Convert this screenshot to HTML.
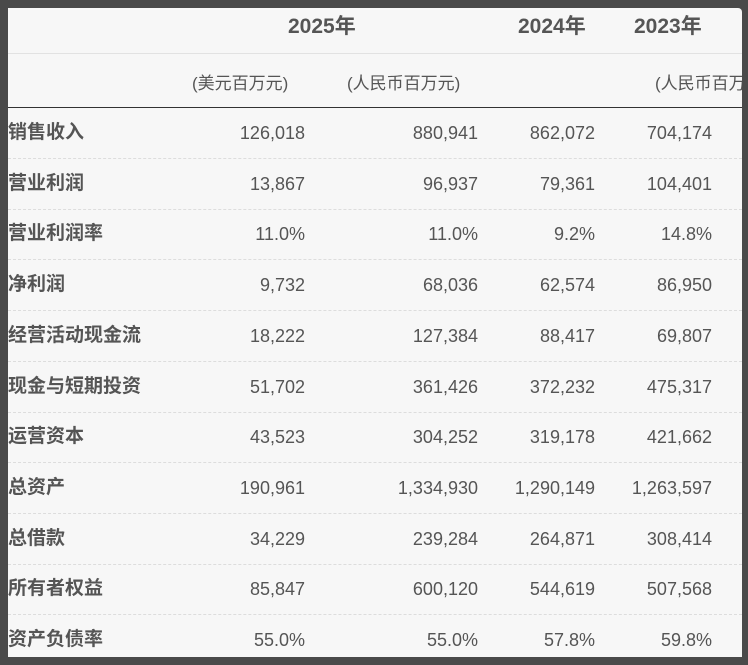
<!DOCTYPE html>
<html><head><meta charset="utf-8"><style>
html,body{margin:0;padding:0;}
body{width:748px;height:665px;background:#4a4a4a;position:relative;overflow:hidden;font-family:"Liberation Sans","Noto Sans CJK SC",sans-serif;color:#555;}
#panel{position:absolute;left:8px;top:8px;width:734px;height:649px;background:#f7f7f7;overflow:hidden;border-top-right-radius:4px;}
.t{position:absolute;white-space:nowrap;font-size:18px;line-height:24px;}
.r{text-align:right;}
.h{font-weight:bold;font-size:21px;color:#555;}
.lab{font-weight:bold;font-size:19px;color:#555;}
.line{position:absolute;left:0;width:734px;}
</style></head><body><div id="panel">
<div class="line" style="top:45px;border-top:1px solid #e2e2e2"></div>
<div class="line" style="top:99px;border-top:1.5px solid #333"></div>
<div class="t h" style="left:280px;top:7px">2025年</div>
<div class="t h" style="left:510px;top:7px">2024年</div>
<div class="t h" style="left:626px;top:7px">2023年</div>
<div class="t" style="left:184px;top:64px;font-size:17px">(美元百万元)</div>
<div class="t" style="left:339px;top:64px;font-size:17px">(人民币百万元)</div>
<div class="t" style="left:647px;top:64px;font-size:17px">(人民币百万元)</div>
<div id="rows"></div>
</div>
<script>
var d=[["销售收入","126,018","880,941","862,072","704,174"],["营业利润","13,867","96,937","79,361","104,401"],["营业利润率","11.0%","11.0%","9.2%","14.8%"],["净利润","9,732","68,036","62,574","86,950"],["经营活动现金流","18,222","127,384","88,417","69,807"],["现金与短期投资","51,702","361,426","372,232","475,317"],["运营资本","43,523","304,252","319,178","421,662"],["总资产","190,961","1,334,930","1,290,149","1,263,597"],["总借款","34,229","239,284","264,871","308,414"],["所有者权益","85,847","600,120","544,619","507,568"],["资产负债率","55.0%","55.0%","57.8%","59.8%"]];
var R=[297,470,587,704],h="";
for(var i=0;i<d.length;i++){var c=125+i*50.7;h+='<div class="t lab" style="left:0;top:'+(c-12)+'px">'+d[i][0]+'</div>';
for(var j=0;j<4;j++)h+='<div class="t r" style="right:'+(734-R[j])+'px;top:'+(c-12)+'px">'+d[i][j+1]+'</div>';
if(i<d.length-1)h+='<div class="line" style="top:'+(c+25)+'px;border-top:1px dashed #ddd"></div>';}
document.getElementById('rows').outerHTML=h;
</script>
</body></html>
